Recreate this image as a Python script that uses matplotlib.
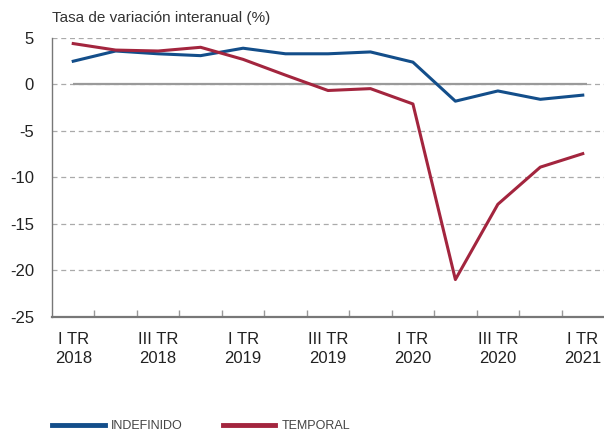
import numpy as np
import matplotlib
matplotlib.use("Agg")
import matplotlib.pyplot as plt

# quarterly data, I TR 2018 .. I TR 2021
quarters = ["I TR\n2018", "II TR\n2018", "III TR\n2018", "IV TR\n2018",
            "I TR\n2019", "II TR\n2019", "III TR\n2019", "IV TR\n2019",
            "I TR\n2020", "II TR\n2020", "III TR\n2020", "IV TR\n2020",
            "I TR\n2021"]
indefinido = [2.5, 3.6, 3.3, 3.1, 3.9, 3.3, 3.3, 3.5, 2.4, -1.8, -0.7, -1.6, -1.15]
temporal = [4.4, 3.7, 3.6, 4.0, 2.7, 1.0, -0.65, -0.45, -2.1, -21.0, -12.9, -8.9, -7.45]

BLUE = "#134e8a"
RED = "#a3253e"

plt.rcParams["font.family"] = ["Liberation Sans", "DejaVu Sans"]
plt.rcParams["axes.unicode_minus"] = False

fig = plt.figure(figsize=(6.04, 4.32), dpi=100)
ax = fig.add_axes([52 / 604, 1 - 316.7 / 432, 552 / 604, (316.7 - 38) / 432])

x = np.arange(len(quarters))

# gridlines
for yv in [5, 0, -5, -10, -15, -20]:
    ax.axhline(yv, color="#aaaaaa", linestyle=(0, (4, 3)), linewidth=0.9, zorder=1)
ax.hlines(0, x[0], x[-1] + 0.1, color="#9a9a9a", linewidth=1.6, zorder=2)

ax.plot(x, indefinido, color=BLUE, linewidth=2.2, label="INDEFINIDO", zorder=3)
ax.plot(x, temporal, color=RED, linewidth=2.2, label="TEMPORAL", zorder=3)

ax.set_xlim(-0.5, len(quarters) - 0.5)
ax.set_ylim(-25, 5)
ax.set_yticks([5, 0, -5, -10, -15, -20, -25])
ax.tick_params(axis="y", length=0, pad=13, labelsize=12, labelcolor="#222222")

ax.set_xticks(x[::2])
ax.set_xticklabels(quarters[::2], fontsize=12, color="#222222", linespacing=1.35)
ax.set_xticks(x[:-1] + 0.5, minor=True)
ax.tick_params(axis="x", which="major", length=0, pad=11)
ax.tick_params(axis="x", which="minor", direction="in", length=5, color="#999999", width=1)

for s in ["top", "right"]:
    ax.spines[s].set_visible(False)
ax.spines["left"].set_color("#777777")
ax.spines["left"].set_linewidth(1.0)
ax.spines["bottom"].set_color("#777777")
ax.spines["bottom"].set_linewidth(1.6)

fig.text(52 / 604, 1 - 18 / 432, "Tasa de variación interanual (%)", fontsize=11,
         color="#333333", ha="left", va="center")

fig.legend(loc="center left", bbox_to_anchor=(52 / 604, 1 - 426 / 432), ncol=2,
           frameon=False, handlelength=4.2, handletextpad=0.5,
           columnspacing=3.2, borderpad=0, borderaxespad=0,
           prop={"size": 9})
for t in fig.legends[0].get_texts():
    t.set_color("#444444")
for h in fig.legends[0].legend_handles:
    h.set_linewidth(3.5)

fig.savefig("out.png", dpi=100)
